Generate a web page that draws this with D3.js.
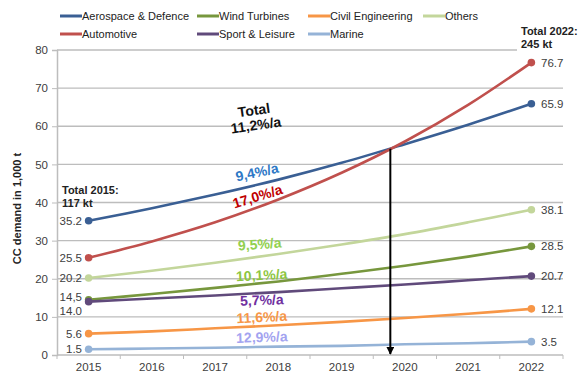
<!DOCTYPE html>
<html>
<head>
<meta charset="utf-8">
<script src="https://cdn.jsdelivr.net/npm/d3@7/dist/d3.min.js"></script>
<style>
  html, body { margin: 0; padding: 0; background: #fff; }
  svg { display: block; font-family: "Liberation Sans", Arial, sans-serif; }
</style>
</head>
<body>
<svg id="chart" width="580" height="374"></svg>
<script>
// Carbon composite demand by application, thousand tonnes
const years = ["2015", "2016", "2017", "2018", "2019", "2020", "2021", "2022"];
const aerospace   = [35.2, 38.5, 42.1, 46.0, 50.4, 55.3, 60.4, 65.9];
const automotive  = [25.5, 29.8, 34.8, 40.8, 47.8, 56.0, 65.6, 76.7];
const wind        = [14.5, 16.0, 17.6, 19.3, 21.3, 23.4, 25.8, 28.5];
const civil       = [5.6, 6.2, 7.0, 7.8, 8.7, 9.7, 10.8, 12.1];
const others      = [20.2, 22.1, 24.2, 26.5, 29.0, 31.7, 34.8, 38.1];
const sport       = [14.0, 14.8, 15.6, 16.5, 17.5, 18.5, 19.6, 20.7];
const marine      = [1.5, 1.7, 1.9, 2.2, 2.4, 2.8, 3.1, 3.5];
const yTicks = [0, 10, 20, 30, 40, 50, 60, 70, 80];

const seriesNames  = ["Aerospace & Defence", "Automotive", "Wind Turbines", "Sport & Leisure", "Civil Engineering", "Marine", "Others"];
const seriesValues = [aerospace, automotive, wind, sport, civil, marine, others];
const seriesColors = ["#3A5F94", "#C0504D", "#77973D", "#604A7B", "#F79646", "#95B3D7", "#C3D69B"];
const growthLabels = ["9,4%/a", "17,0%/a", "10,1%/a", "5,7%/a", "11,6%/a", "12,9%/a", "9,5%/a"];
const growthColors = ["#2E78C6", "#C00000", "#8DC63F", "#7030A0", "#F79646", "#A3A3F0", "#92D050"];
const startLabels  = ["35.2", "25.5", "14,5", "14.0", "5.6", "1.5", "20.2"];

// Point where automotive overtakes aerospace (between 2019 and 2020)
const crossYear = 4.77;
const crossValue = 54.1;

const svg = d3.select("#chart");
const plotLeft = 57, plotRight = 563, plotTop = 50, plotBottom = 355;

const x = d3.scaleBand().domain(years).range([plotLeft, plotRight]);
const cx = d => x(d) + x.bandwidth() / 2;
const y = d3.scaleLinear().domain([0, 80]).range([plotBottom, plotTop]);

const textColor = "#404040";
const gridColor = "#BDBDBD";

// Horizontal gridlines
svg.append("g").selectAll("line").data(yTicks.filter(t => t > 0)).join("line")
  .attr("x1", plotLeft).attr("x2", plotRight)
  .attr("y1", d => y(d)).attr("y2", d => y(d))
  .attr("stroke", gridColor).attr("stroke-width", 1.3);

// Y axis
const yAxis = svg.append("g").attr("transform", `translate(${plotLeft},0)`)
  .call(d3.axisLeft(y).tickValues(yTicks).tickSize(5).tickPadding(4));
yAxis.select(".domain").attr("stroke", gridColor).attr("stroke-width", 1.5);
yAxis.selectAll(".tick line").attr("stroke", gridColor);
yAxis.selectAll(".tick text").attr("fill", textColor).attr("font-size", 11.5)
  .attr("font-family", "Liberation Sans, Arial, sans-serif");

// X axis with ticks on category boundaries
const xAxis = svg.append("g").attr("transform", `translate(0,${plotBottom})`);
xAxis.append("line").attr("x1", plotLeft).attr("x2", plotRight)
  .attr("stroke", gridColor).attr("stroke-width", 1.5);
const bounds = years.map(d => x(d)).concat([plotRight]);
xAxis.selectAll("line.tk").data(bounds).join("line").attr("class", "tk")
  .attr("x1", d => d).attr("x2", d => d).attr("y1", 0).attr("y2", 4)
  .attr("stroke", gridColor).attr("stroke-width", 1);
xAxis.selectAll("text").data(years).join("text")
  .attr("x", d => cx(d)).attr("y", 16)
  .attr("text-anchor", "middle").attr("fill", textColor)
  .attr("font-size", 11.5).text(d => d);

// Y axis title
svg.append("text")
  .attr("transform", `translate(21,${(plotTop + plotBottom) / 2 + 6}) rotate(-90)`)
  .attr("text-anchor", "middle").attr("font-size", 11).attr("font-weight", "bold")
  .attr("fill", "#222").text("CC demand in 1,000 t");

// Series lines
const line = d3.line().x((d, i) => cx(years[i])).y(d => y(d)).curve(d3.curveCatmullRom.alpha(0.5));
const order = [6, 2, 3, 4, 5, 0, 1];
order.forEach(k => {
  svg.append("path").attr("d", line(seriesValues[k]))
    .attr("fill", "none").attr("stroke", seriesColors[k]).attr("stroke-width", 2.6);
  const ends = [0, years.length - 1];
  svg.append("g").selectAll("circle").data(ends).join("circle")
    .attr("cx", i => cx(years[i])).attr("cy", i => y(seriesValues[k][i]))
    .attr("r", 3.8).attr("fill", seriesColors[k]);
});

// Start values
const startOffsets = [0, 0, -3, 9, 0, 0, 0];
seriesValues.forEach((vals, k) => {
  svg.append("text").attr("x", 82).attr("y", y(vals[0]) + startOffsets[k] + 4)
    .attr("text-anchor", "end").attr("font-size", 11.5).attr("fill", textColor)
    .text(startLabels[k]);
});

// End values
seriesValues.forEach((vals, k) => {
  const v = vals[vals.length - 1];
  svg.append("text").attr("x", 541).attr("y", y(v) + 4)
    .attr("font-size", 11.5).attr("fill", textColor).text(v.toFixed(1));
});

// Growth rate annotations
const growthPos = [
  { x: 258, y: 172, r: -12 },
  { x: 259, y: 196, r: -17 },
  { x: 262, y: 275, r: -3 },
  { x: 262, y: 300, r: -2 },
  { x: 262, y: 317, r: -3 },
  { x: 262, y: 337, r: -2 },
  { x: 260, y: 244, r: -4 }
];
growthLabels.forEach((t, k) => {
  const p = growthPos[k];
  svg.append("text").attr("transform", `translate(${p.x},${p.y + 5}) rotate(${p.r})`)
    .attr("text-anchor", "middle").attr("font-size", 14).attr("font-weight", "bold")
    .attr("fill", growthColors[k]).text(t);
});

// Total growth
const total = svg.append("g").attr("transform", "translate(255,118) rotate(-8)")
  .attr("font-size", 14).attr("font-weight", "bold").attr("fill", "#111")
  .attr("text-anchor", "middle");
total.append("text").attr("y", -3).text("Total");
total.append("text").attr("y", 12).text("11,2%/a");

// Arrow down from the crossing point
const arrowX = cx(years[4]) + (cx(years[5]) - cx(years[4])) * (crossYear - 4);
svg.append("defs").append("marker").attr("id", "head")
  .attr("viewBox", "0 0 10 10").attr("refX", 9).attr("refY", 5)
  .attr("markerWidth", 4).attr("markerHeight", 4).attr("orient", "auto")
  .append("path").attr("d", "M0,0 L10,5 L0,10 Z").attr("fill", "#000");
svg.append("line").attr("x1", arrowX).attr("x2", arrowX)
  .attr("y1", y(crossValue)).attr("y2", y(0) - 1)
  .attr("stroke", "#000").attr("stroke-width", 2).attr("marker-end", "url(#head)");

// Totals
const t15 = svg.append("g").attr("font-size", 11).attr("font-weight", "bold").attr("fill", "#222");
t15.append("text").attr("x", 62).attr("y", 194).text("Total 2015:");
t15.append("text").attr("x", 62).attr("y", 207).text("117 kt");
svg.append("rect").attr("x", 517).attr("y", 20).attr("width", 60).attr("height", 34).attr("fill", "#fff");
const t22 = svg.append("g").attr("font-size", 11).attr("font-weight", "bold").attr("fill", "#222");
t22.append("text").attr("x", 521).attr("y", 35).text("Total 2022:");
t22.append("text").attr("x", 521).attr("y", 48).text("245 kt");

// Legend
const legendPos = [
  { x: 60, y: 16 }, { x: 60, y: 34 },
  { x: 197, y: 16 }, { x: 197, y: 34 },
  { x: 308, y: 16 }, { x: 308, y: 34 },
  { x: 423, y: 16 }
];
seriesNames.forEach((n, k) => {
  const p = legendPos[k];
  svg.append("line").attr("x1", p.x).attr("x2", p.x + 22).attr("y1", p.y).attr("y2", p.y)
    .attr("stroke", seriesColors[k]).attr("stroke-width", 3);
  svg.append("text").attr("x", p.x + 22).attr("y", p.y + 4)
    .attr("font-size", 11).attr("fill", "#222").text(n);
});
</script>
</body>
</html>
